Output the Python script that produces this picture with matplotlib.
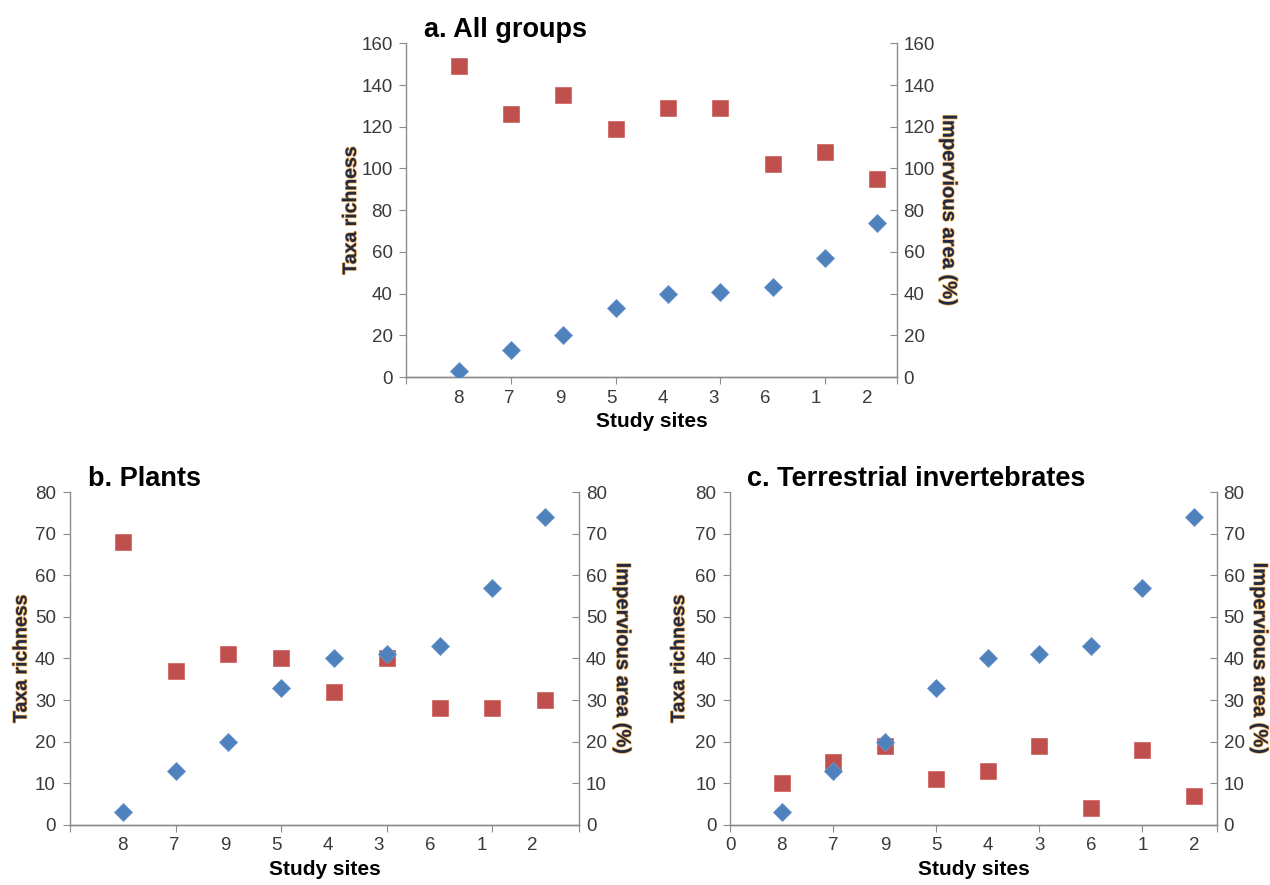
import matplotlib
matplotlib.use("Agg")
import matplotlib.pyplot as plt
import matplotlib.patheffects as pe

plt.rcParams['font.family'] = ['Liberation Sans', 'DejaVu Sans']

# site order along the x axis
sites = ['8', '7', '9', '5', '4', '3', '6', '1', '2']

# impervious area (%) per site, same for every panel
impervious = [3, 13, 20, 33, 40, 41, 43, 57, 74]

# taxa richness per panel
rich_all = [149, 126, 135, 119, 129, 129, 102, 108, 95]
rich_plants = [68, 37, 41, 40, 32, 40, 28, 28, 30]
rich_invert = [10, 15, 19, 11, 13, 19, 4, 18, 7]

titles = ['a. All groups', 'b. Plants', 'c. Terrestrial invertebrates']

RED = '#C0504D'
BLUE = '#4F81BD'
GRAY = '#8C8C8C'
TXT = '#3A3A3A'

label_fx = [pe.withStroke(linewidth=1.0, foreground='#E9A54A')]


def style_axis(ax, ydir):
    ax.spines['top'].set_visible(False)
    for s in ['left', 'right', 'bottom']:
        ax.spines[s].set_color(GRAY)
        ax.spines[s].set_linewidth(1.0)
    ax.tick_params(axis='x', which='major', direction='out', length=5,
                   color=GRAY)
    ax.tick_params(axis='y', which='major', direction=ydir, length=5,
                   color=GRAY, labelsize=13.5, labelcolor=TXT,
                   pad=5 if ydir == 'out' else 5)


def panel(rect, richness, title, ymax, ystep, xmax, label_step,
          left_lab, right_lab, zero_label=False):
    ax = fig.add_axes(rect)
    ax2 = ax.twinx()
    n = len(sites)
    xs = list(range(1, n + 1))

    ax.plot(xs, richness, linestyle='none', marker='s', markersize=11.5,
            color=RED, markeredgecolor='#D06A67', markeredgewidth=0.6, zorder=3)
    ax2.plot(xs, impervious, linestyle='none', marker='D', markersize=9,
             color=BLUE, markeredgecolor='#6A95CC', markeredgewidth=0.6, zorder=3)

    for a, ydir in ((ax, 'out'), (ax2, 'in')):
        a.set_xlim(0, xmax)
        a.set_ylim(0, ymax)
        a.set_yticks(range(0, ymax + 1, ystep))
        style_axis(a, ydir)
    ax2.spines['left'].set_visible(False)
    ax.spines['right'].set_visible(False)

    # tick marks every 2 units plus the axis end, category labels separately
    ax.xaxis.remove_overlapping_locs = False
    ax.set_xticks([0, 2, 4, 6, 8, xmax])
    ax.set_xticklabels([''] * 6)
    pos = [1 + i * label_step for i in range(n)]
    labels = list(sites)
    if zero_label:
        pos = [0] + pos
        labels = ['0'] + labels
    ax.set_xticks(pos, labels, minor=True)
    ax.tick_params(axis='x', which='minor', length=0, labelsize=13.5,
                   labelcolor=TXT, pad=9)

    ax.set_xlabel('Study sites', fontsize=15, fontweight='bold', labelpad=4)
    ax.set_ylabel('Taxa richness', fontsize=14, fontweight='bold',
                  color='#1F2A44', path_effects=label_fx,
                  ha='center', va='center')
    ax.yaxis.set_label_coords(left_lab, 0.5)
    ax2.set_ylabel('Impervious area (%)', fontsize=14.5, fontweight='bold',
                   color='#1F2A44', path_effects=label_fx, rotation=-90,
                   ha='center', va='center')
    ax2.yaxis.set_label_coords(right_lab, 0.5)
    ax.text(0.035, 1.0, title, transform=ax.transAxes, fontsize=19.5,
            fontweight='bold', ha='left', va='bottom', color='black')
    return ax


fig = plt.figure(figsize=(12.7, 8.85), dpi=100)

panel([0.320, 0.574, 0.386, 0.377], rich_all, titles[0], 160, 20, 9.37, 0.975,
      -0.112, 1.106)
panel([0.055, 0.068, 0.401, 0.376], rich_plants, titles[1], 80, 10, 9.64, 0.97,
      -0.094, 1.085)
panel([0.575, 0.068, 0.383, 0.376], rich_invert, titles[2], 80, 10, 9.44, 1.0,
      -0.104, 1.088, zero_label=True)

fig.savefig('out.png', dpi=100)
